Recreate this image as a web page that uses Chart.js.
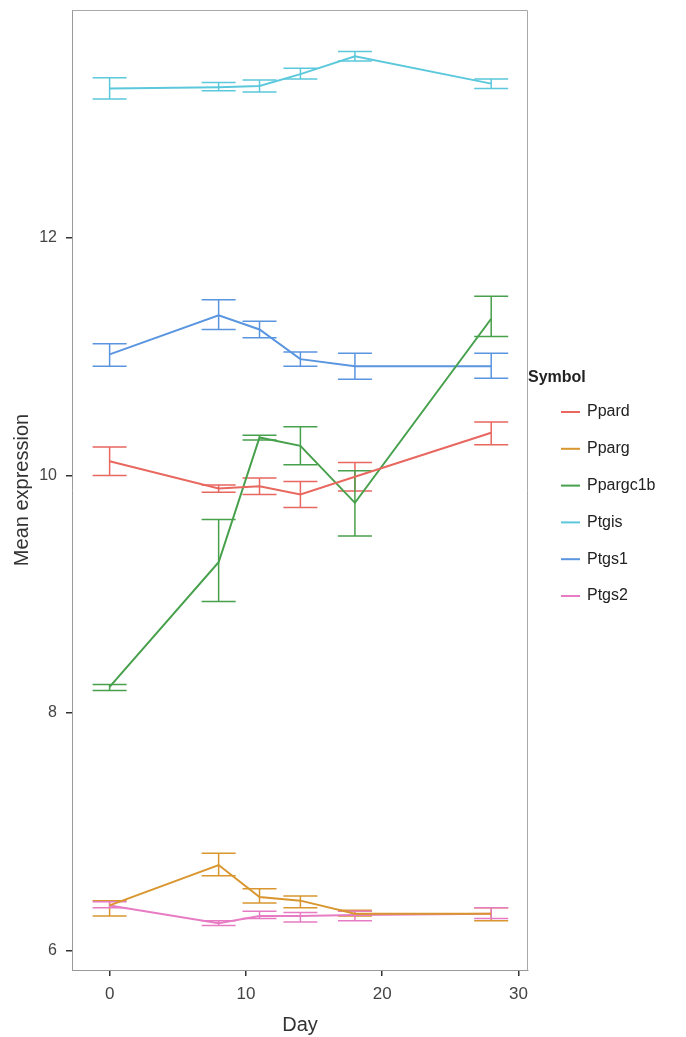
<!DOCTYPE html>
<html>
<head>
<meta charset="utf-8">
<script src="https://cdn.jsdelivr.net/npm/chart.js@4.4.0/dist/chart.umd.min.js"></script>
<style>
  html, body { margin: 0; padding: 0; background: #fff; }
  #wrap { width: 686px; height: 1037px; position: relative; }
</style>
</head>
<body>
<div id="wrap"><canvas id="c"></canvas></div>
<script>
const days = [0, 8, 11, 14, 18, 28];
const symbols = ['Ppard', 'Pparg', 'Ppargc1b', 'Ptgis', 'Ptgs1', 'Ptgs2'];
const colors = ['#e8675f', '#d9962f', '#47a04c', '#5cc8dc', '#5a95e0', '#e77cc4'];

// mean expression per symbol, one value per day
const ppardMean    = [10.12, 9.89, 9.91, 9.84, 9.99, 10.36];
const ppargMean    = [6.38, 6.72, 6.45, 6.42, 6.31, 6.31];
const ppargc1bMean = [8.22, 9.27, 10.32, 10.25, 9.77, 11.32];
const ptgisMean    = [13.26, 13.27, 13.28, 13.38, 13.53, 13.30];
const ptgs1Mean    = [11.02, 11.35, 11.23, 10.98, 10.92, 10.92];
const ptgs2Mean    = [6.38, 6.23, 6.29, 6.29, 6.30, 6.31];

// error bar lower / upper ends
const ppardLow     = [10.00, 9.86, 9.84, 9.73, 9.87, 10.26];
const ppardHigh    = [10.24, 9.92, 9.98, 9.95, 10.11, 10.45];
const ppargLow     = [6.29, 6.63, 6.40, 6.36, 6.29, 6.25];
const ppargHigh    = [6.42, 6.82, 6.52, 6.46, 6.34, 6.36];
const ppargc1bLow  = [8.19, 8.94, 10.30, 10.09, 9.49, 11.17];
const ppargc1bHigh = [8.24, 9.63, 10.34, 10.41, 10.04, 11.51];
const ptgisLow     = [13.17, 13.24, 13.23, 13.34, 13.49, 13.26];
const ptgisHigh    = [13.35, 13.31, 13.33, 13.43, 13.57, 13.34];
const ptgs1Low     = [10.92, 11.23, 11.16, 10.92, 10.81, 10.82];
const ptgs1High    = [11.11, 11.48, 11.30, 11.04, 11.03, 11.03];
const ptgs2Low     = [6.36, 6.21, 6.27, 6.24, 6.25, 6.27];
const ptgs2High    = [6.41, 6.25, 6.33, 6.32, 6.33, 6.36];

const yTicks = [6, 8, 10, 12];
const xTicks = [0, 10, 20, 30];

const means = [ppardMean, ppargMean, ppargc1bMean, ptgisMean, ptgs1Mean, ptgs2Mean];
const lows  = [ppardLow, ppargLow, ppargc1bLow, ptgisLow, ptgs1Low, ptgs2Low];
const highs = [ppardHigh, ppargHigh, ppargc1bHigh, ptgisHigh, ptgs1High, ptgs2High];

const FONT = '"Liberation Sans", Arial, sans-serif';

const datasets = symbols.map((s, k) => ({
  label: s,
  data: days.map((d, i) => ({ x: d, y: means[k][i] })),
  borderColor: colors[k],
  backgroundColor: colors[k],
  borderWidth: 2,
  pointRadius: 0,
  tension: 0,
  fill: false,
  lows: lows[k],
  highs: highs[k]
}));

// error bars drawn through the scales
const errorBars = {
  id: 'errorBars',
  beforeDatasetsDraw(chart) {
    const ctx = chart.ctx;
    const xs = chart.scales.x, ys = chart.scales.y;
    const cap = 17;
    ctx.save();
    ctx.lineWidth = 1.5;
    chart.data.datasets.forEach(ds => {
      ctx.strokeStyle = ds.borderColor;
      days.forEach((d, i) => {
        const x = xs.getPixelForValue(d);
        const y1 = ys.getPixelForValue(ds.lows[i]);
        const y2 = ys.getPixelForValue(ds.highs[i]);
        ctx.beginPath();
        ctx.moveTo(x, y1); ctx.lineTo(x, y2);
        ctx.moveTo(x - cap, y1); ctx.lineTo(x + cap, y1);
        ctx.moveTo(x - cap, y2); ctx.lineTo(x + cap, y2);
        ctx.stroke();
      });
    });
    ctx.restore();
  }
};

// panel frame + legend
const frameLegend = {
  id: 'frameLegend',
  afterDraw(chart) {
    const ctx = chart.ctx;
    const a = chart.chartArea;
    ctx.save();
    ctx.strokeStyle = '#a8a8a8';
    ctx.lineWidth = 1;
    ctx.beginPath();
    ctx.moveTo(a.left, a.top + 0.5); ctx.lineTo(a.right - 0.5, a.top + 0.5);
    ctx.lineTo(a.right - 0.5, a.bottom);
    ctx.stroke();

    ctx.fillStyle = '#222';
    ctx.font = 'bold 16px ' + FONT;
    ctx.textBaseline = 'middle';
    ctx.textAlign = 'left';
    ctx.fillText('Symbol', 528, 378);
    ctx.font = '16px ' + FONT;
    chart.data.datasets.forEach((ds, k) => {
      const y = 412 + k * 36.8;
      ctx.strokeStyle = ds.borderColor;
      ctx.lineWidth = 2;
      ctx.beginPath();
      ctx.moveTo(561, y); ctx.lineTo(580, y);
      ctx.stroke();
      ctx.fillStyle = '#222';
      ctx.fillText(ds.label, 587, y);
    });
    ctx.restore();
  }
};

new Chart(document.getElementById('c'), {
  type: 'line',
  data: { datasets },
  options: {
    responsive: true,
    maintainAspectRatio: false,
    animation: false,
    layout: { padding: { top: 10, right: 158, left: 0, bottom: 0 } },
    plugins: { legend: { display: false }, tooltip: { enabled: false } },
    scales: {
      x: {
        type: 'linear',
        min: -2.76,
        max: 30.7,
        afterBuildTicks: s => { s.ticks = xTicks.map(v => ({ value: v })); },
        afterFit: s => { s.height = 67; s.paddingLeft = 0; s.paddingRight = 0; },
        grid: { display: true, drawOnChartArea: false, drawTicks: true, tickLength: 6, tickColor: '#333', lineWidth: 1.5 },
        border: { display: true, color: '#999', width: 1 },
        ticks: { color: '#444', font: { family: FONT, size: 17 }, padding: 8 },
        title: { display: true, text: 'Day', color: '#333', font: { family: FONT, size: 20 }, padding: { top: 0, bottom: 0 } }
      },
      y: {
        type: 'linear',
        min: 5.836,
        max: 13.92,
        afterBuildTicks: s => { s.ticks = yTicks.map(v => ({ value: v })); },
        afterFit: s => { s.width = 72; s.paddingTop = 0; s.paddingBottom = 0; },
        grid: { display: true, drawOnChartArea: false, drawTicks: true, tickLength: 6, tickColor: '#333', lineWidth: 1.5 },
        border: { display: true, color: '#999', width: 1 },
        ticks: { color: '#444', font: { family: FONT, size: 16 }, padding: 9 },
        title: { display: true, text: 'Mean expression', color: '#333', font: { family: FONT, size: 20 }, padding: { top: 10, bottom: 0 } }
      }
    }
  },
  plugins: [errorBars, frameLegend]
});
</script>
</body>
</html>
